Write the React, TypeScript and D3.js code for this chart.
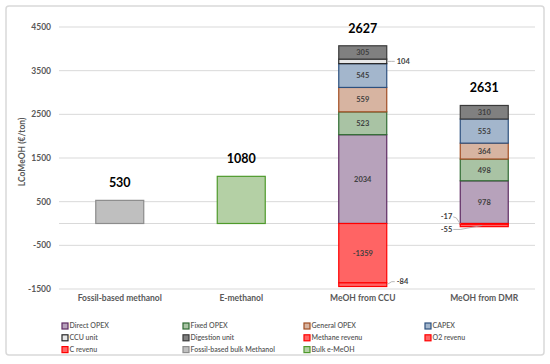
import React from "react";
import * as d3 from "d3";

const categories = ["Fossil-based methanol", "E-methanol", "MeOH from CCU", "MeOH from DMR"];
const seriesNames = [
  "Direct OPEX", "Fixed OPEX", "General OPEX", "CAPEX",
  "CCU unit", "Digestion unit", "Methane revenu", "O2 revenu",
  "C revenu", "Fossil-based bulk Methanol", "Bulk e-MeOH",
];
const directOpex = [0, 0, 2034, 978];
const fixedOpex = [0, 0, 523, 498];
const generalOpex = [0, 0, 559, 364];
const capex = [0, 0, 545, 553];
const ccuUnit = [0, 0, 104, 0];
const digestionUnit = [0, 0, 305, 310];
const methaneRevenu = [0, 0, -1359, 0];
const o2Revenu = [0, 0, -84, -17];
const cRevenu = [0, 0, 0, -55];
const fossilBulk = [530, 0, 0, 0];
const bulkEMeOH = [0, 1080, 0, 0];
const totals = [530, 1080, 2627, 2631];
const yTicks = [-1500, -500, 500, 1500, 2500, 3500, 4500];

const seriesValues = [directOpex, fixedOpex, generalOpex, capex, ccuUnit, digestionUnit,
  methaneRevenu, o2Revenu, cRevenu, fossilBulk, bulkEMeOH];

const fills = ["#b7a2bb", "#a9c3a4", "#d7b4a1", "#a3b6cc", "#e8e8e8", "#808080",
  "#ff6464", "#ff6464", "#ff6464", "#bfbfbf", "#b4d0a5"];
const strokes = ["#5e2a62", "#2f6b32", "#a14d22", "#2d507e", "#262626", "#3a3a3a",
  "#ff0000", "#ff0000", "#ff0000", "#8c8c8c", "#4e9a2b"];
const totalLabelCats = [0, 1]; // categories whose single bar has no inner label

const W = 550, H = 364;
const FONT = "Lato, 'Open Sans', 'Liberation Sans', sans-serif";

export default function App() {
  const x = d3.scaleBand<string>().domain(categories).range([59, 545]).padding(0);
  const barW = x.bandwidth() * 0.395;
  const y = d3.scaleLinear().domain([-1500, 4500]).range([289, 27]);

  const rows = categories.map((c, i) => {
    const r: any = { cat: c };
    seriesNames.forEach((s, k) => (r[s] = seriesValues[k][i]));
    return r;
  });
  const stacked = d3.stack<any>().keys(seriesNames).offset(d3.stackOffsetDiverging)(rows);

  const segs: any[] = [];
  stacked.forEach((layer, k) => {
    layer.forEach((d, i) => {
      const v = seriesValues[k][i];
      if (v === 0) return;
      segs.push({ k, i, v, y0: d[0], y1: d[1] });
    });
  });

  const legendCols = [65, 186, 307, 428];
  const legendRows = [326, 337.8, 349.6];

  return (
    <svg width={W} height={H} style={{ position: "absolute", left: 0, top: 0, fontFamily: FONT }}>
      <rect x={0} y={0} width={W} height={H} fill="#ffffff" />
      <rect x={6} y={6} width={538} height={349} rx={3} fill="#ffffff" stroke="#d9d9d9" strokeWidth={1.5} />
      {/* grid */}
      {[...yTicks, 0].map((t) => (
        <line key={"g" + t} x1={59} x2={535} y1={y(t)} y2={y(t)} stroke="#d9d9d9" strokeWidth={1} />
      ))}
      {yTicks.map((t) => (
        <text key={"t" + t} x={51} y={y(t)} dy="0.35em" textAnchor="end" fontSize={8.5} fontWeight="bold" fill="#595959">
          {t}
        </text>
      ))}
      <text transform={`translate(22,152) rotate(-90)`} textAnchor="middle" dy="0.35em" fontSize={8.5} fontWeight="bold" fill="#595959">
        LCoMeOH (€/ton)
      </text>
      {/* bars */}
      {segs.map((s) => {
        const bx = (x(categories[s.i]) as number) + x.bandwidth() / 2 - barW / 2;
        const top = y(Math.max(s.y0, s.y1));
        const bot = y(Math.min(s.y0, s.y1));
        return (
          <rect key={`r${s.k}-${s.i}`} x={bx} y={top} width={barW} height={Math.max(bot - top, 0.5)}
            fill={fills[s.k]} stroke={strokes[s.k]} strokeWidth={1.2} />
        );
      })}
      {/* segment labels */}
      {segs.map((s) => {
        if (totalLabelCats.includes(s.i)) return null;
        const cx = (x(categories[s.i]) as number) + x.bandwidth() / 2;
        const mid = y((s.y0 + s.y1) / 2);
        const big = Math.abs(s.v) >= 150;
        if (big) {
          return (
            <text key={`l${s.k}-${s.i}`} x={cx} y={mid} dy="0.35em" textAnchor="middle" fontSize={7.5} fontWeight="bold" fill="#404040">
              {s.v}
            </text>
          );
        }
        const right = s.i === 2;
        if (right) {
          const ex = cx + barW / 2;
          const neg = s.v < 0;
          const ly = neg ? mid - 3 : mid;
          return (
            <g key={`l${s.k}-${s.i}`}>
              <polyline points={`${ex},${mid} ${ex + 5},${ly} ${ex + 8},${ly}`} fill="none" stroke="#a6a6a6" strokeWidth={0.8} />
              <text x={ex + 10} y={ly} dy="0.35em" fontSize={7.5} fontWeight="bold" fill="#404040">{s.v}</text>
            </g>
          );
        }
        const ex = cx - barW / 2;
        const first = s.y0 === 0 || s.y1 === 0;
        const ly = first ? mid - 7 : mid + 4;
        const tx = ex - 8;
        return (
          <g key={`l${s.k}-${s.i}`}>
            {first ? (
              <polyline points={`${ex},${mid} ${ex - 4},${ly + 1} ${tx + 1},${ly}`} fill="none" stroke="#a6a6a6" strokeWidth={0.8} />
            ) : (
              <polyline points={`${ex + 22},${mid} ${ex},${ly} ${tx + 1},${ly}`} fill="none" stroke="#a6a6a6" strokeWidth={0.8} />
            )}
            <text x={tx} y={ly} dy="0.35em" textAnchor="end" fontSize={7.5} fontWeight="bold" fill="#404040">{s.v}</text>
          </g>
        );
      })}
      {/* totals */}
      {totals.map((t, i) => {
        const cx = (x(categories[i]) as number) + x.bandwidth() / 2;
        const top = d3.max(stacked, (l) => l[i][1]) as number;
        return (
          <text key={"tot" + i} x={cx} y={y(top) - 13} textAnchor="middle" fontSize={12.5} fontWeight="bold" fill="#000">
            {t}
          </text>
        );
      })}
      {/* category labels */}
      {categories.map((c) => (
        <text key={"c" + c} x={(x(c) as number) + x.bandwidth() / 2} y={301} textAnchor="middle" fontSize={8.5} fontWeight="bold" fill="#595959">
          {c}
        </text>
      ))}
      {/* legend */}
      {seriesNames.map((s, k) => {
        const lx = legendCols[k % 4];
        const ly = legendRows[Math.floor(k / 4)];
        return (
          <g key={"lg" + s}>
            <rect x={lx - 3} y={ly - 3} width={6} height={6} fill={fills[k]} stroke={strokes[k]} strokeWidth={1.2} />
            <text x={lx + 4.5} y={ly} dy="0.35em" fontSize={7} fontWeight="600" fill="#595959">{s}</text>
          </g>
        );
      })}
    </svg>
  );
}
